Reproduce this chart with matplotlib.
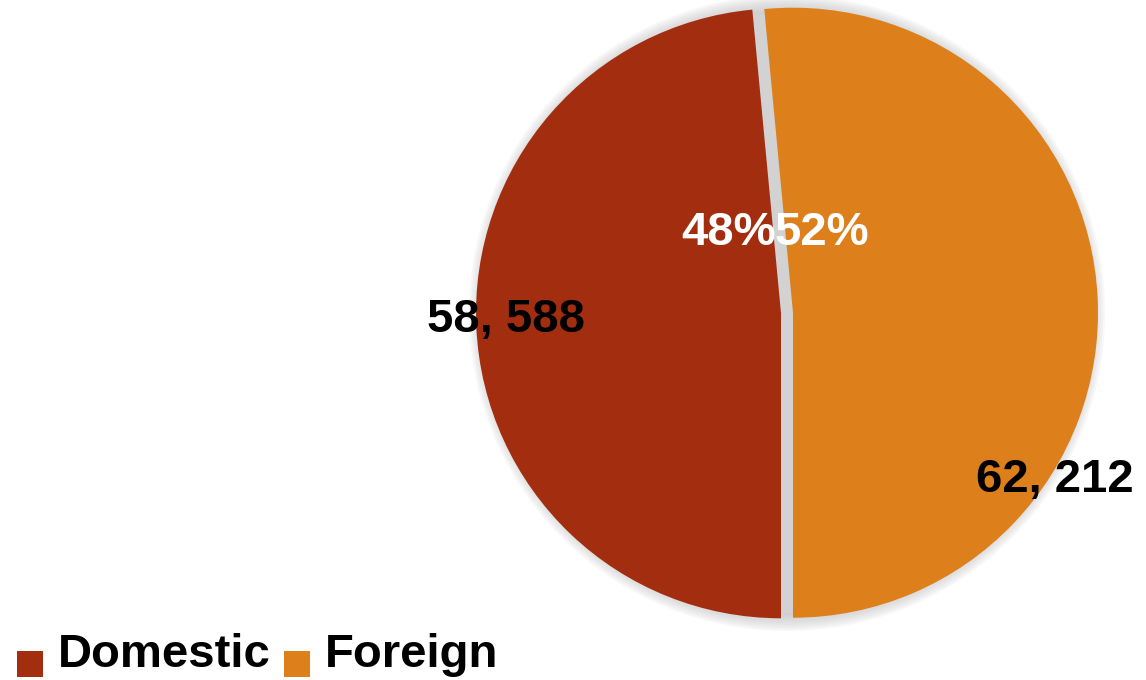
import matplotlib
matplotlib.use("Agg")
import matplotlib.pyplot as plt
from matplotlib.patches import Circle, Rectangle

categories = ["Domestic", "Foreign"]
values = [58588, 62212]
value_labels = ["58, 588", "62, 212"]
colors = ["#A32E0F", "#DD7F1B"]

W, H = 1146, 680
fig = plt.figure(figsize=(W / 100, H / 100), dpi=100)
ax = fig.add_axes([0, 0, 1, 1])

cx, cy, R = 787, H - 313, 305
font = "Liberation Sans"

# soft shadow behind the pie
for r in range(318, 300, -2):
    ax.add_patch(Circle((cx, cy), r, color="#B8B8B8", alpha=0.10, lw=0, zorder=0))
ax.add_patch(Circle((cx, cy), 300, color="#D2D2D2", lw=0, zorder=0.5))

total = sum(values)
wedges, _ = ax.pie(values, colors=colors, startangle=-90, counterclock=False,
                   radius=R, center=(cx, cy), explode=[6, 6],
                   wedgeprops=dict(linewidth=0), frame=True)
ax.set_xlim(0, W)
ax.set_ylim(0, H)
ax.set_aspect("auto")
ax.axis("off")

# percentage labels
pct_pos = [(729, H - 233), (822, H - 233)]
for (x, y), v in zip(pct_pos, values):
    ax.text(x, y, f"{round(100 * v / total)}%", color="white", fontsize=34,
            fontweight="bold", family=font, ha="center", va="center", zorder=5)

# value labels
val_pos = [(506, H - 320), (1055, H - 480)]
for (x, y), t in zip(val_pos, value_labels):
    ax.text(x, y, t, color="black", fontsize=34, fontweight="bold",
            family=font, ha="center", va="center", zorder=5)

# legend
sq_x = [17, 284]
for x0, c, name in zip(sq_x, colors, categories):
    ax.add_patch(Rectangle((x0, H - 677), 26, 26, color=c, lw=0, zorder=5))
    ax.text(x0 + 41, H - 667, name, color="black", fontsize=34, fontweight="bold",
            family=font, ha="left", va="baseline", zorder=5)

fig.savefig("out.png", dpi=100)
